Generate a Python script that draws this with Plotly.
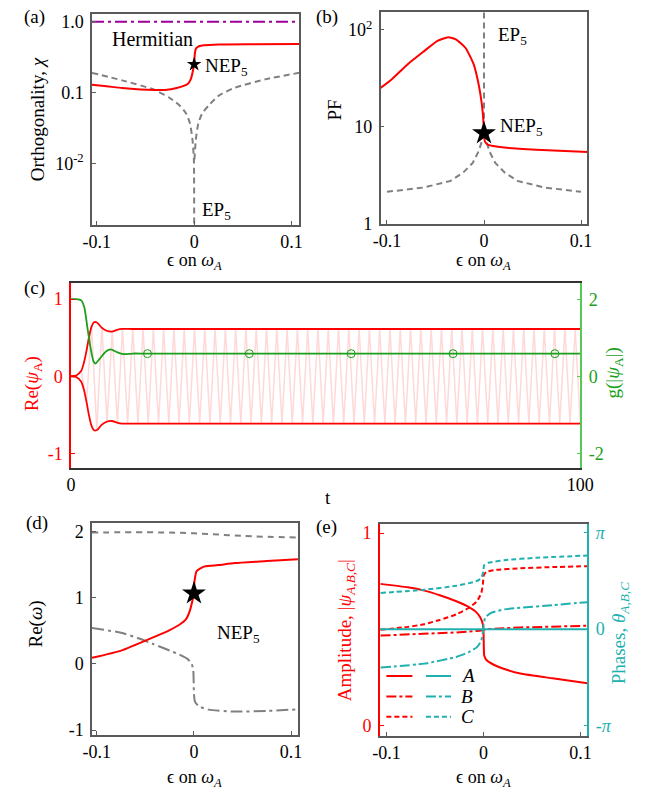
import plotly.graph_objects as go

W, H = 660, 797
FONT = "Liberation Serif, Times New Roman, serif"
RED = "#ff0000"
GRAY = "#808080"
PURPLE = "#9b009b"
GREEN = "#1aa01a"
CYAN = "#20b0b0"
PINK = "#ffd8d8"
BORDER = "#5a5a5a"

# ---------------- data: panel (a) ----------------
a_eps_red = [-0.105, -0.09, -0.074, -0.055, -0.041, -0.03, -0.018, -0.0067, -0.0034, -0.0017, 0.0,
             0.0005, 0.001, 0.002, 0.005, 0.01, 0.025, 0.06, 0.108]
a_chi_red = [0.129, 0.123, 0.116, 0.111, 0.109, 0.109, 0.116, 0.132, 0.155, 0.191, 0.25,
             0.33, 0.38, 0.42, 0.45, 0.465, 0.478, 0.482, 0.485]
a_eps_gray_l = [-0.105, -0.074, -0.041, -0.025, -0.015, -0.0083, -0.0043, -0.0017, -0.0003, 0.0]
a_chi_gray_l = [0.19, 0.149, 0.11, 0.084, 0.066, 0.051, 0.0367, 0.0215, 0.0114, 0.0012]
a_eps_gray_r = [0.0003, 0.0017, 0.0043, 0.0083, 0.015, 0.025, 0.041, 0.074, 0.108]
a_chi_gray_r = [0.0114, 0.0215, 0.037, 0.051, 0.066, 0.09, 0.116, 0.155, 0.19]
a_eps_herm = [-0.105, 0.108]
a_chi_herm = [1.0, 1.0]
a_star = (0.0, 0.25)

# ---------------- data: panel (b) ----------------
b_eps_red = [-0.107, -0.095, -0.078, -0.062, -0.048, -0.037, -0.029, -0.019, -0.0106, -0.0056,
             -0.0023, -0.0007, 0.0, 0.001, 0.0043, 0.021, 0.054, 0.107]
b_pf_red = [25, 31, 44.8, 60, 77, 84, 80, 65, 44, 27.6,
            17.3, 11.7, 8.57, 7.03, 6.5, 6.1, 5.8, 5.5]
b_eps_gray_l = [-0.1, -0.062, -0.0345, -0.0215, -0.0116, -0.0056, -0.0023, 0.0, 0.0]
b_pf_gray_l = [2.13, 2.36, 2.76, 3.36, 4.24, 5.56, 7.03, 8.57, 200]
b_eps_gray_r = [0.0, 0.0023, 0.0056, 0.0116, 0.0215, 0.0345, 0.062, 0.1]
b_pf_gray_r = [8.57, 7.03, 5.56, 4.24, 3.36, 2.76, 2.36, 2.13]
b_star = (0.0, 8.57)

# ---------------- data: panel (c) ----------------
c_t_env = [0, 1, 2, 2.5, 3, 3.5, 4, 4.5, 5, 5.5, 6, 7, 8, 9, 10, 12, 100]
c_env_up = [0, 0.01, 0.07, 0.17, 0.32, 0.5, 0.64, 0.7, 0.7, 0.67, 0.63, 0.59, 0.58, 0.6, 0.613, 0.613, 0.613]
c_env_low = [-v for v in c_env_up]
c_t_g = [0, 1, 2.0, 2.6, 3.2, 3.8, 4.4, 4.8, 5.6, 6.9, 7.8, 9.1, 10.3, 12.2, 15, 100]
c_g = [2.0, 2.0, 1.97, 1.79, 1.27, 0.76, 0.39, 0.33, 0.45, 0.65, 0.70, 0.62, 0.575, 0.59, 0.586, 0.586]
c_t_markers = [15, 35, 55, 75, 95]
c_g_markers = [0.586, 0.586, 0.586, 0.586, 0.586]
# oscillation of Re(psi_A): extreme values
c_osc_half_period = 1.01
c_osc_amp_early = [0.0, 0.01, 0.07, 0.33, 0.64, 0.70, 0.64, 0.59, 0.585, 0.60]
c_osc_amp_steady = 0.613

# ---------------- data: panel (d) ----------------
d_eps_red = [-0.105, -0.075, -0.042, -0.025, -0.015, -0.0083, -0.0043, -0.0017, 0.0, 0.0005,
             0.0028, 0.011, 0.025, 0.042, 0.075, 0.108]
d_re_red = [0.09, 0.2, 0.4, 0.51, 0.59, 0.67, 0.80, 0.945, 1.063, 1.24,
            1.40, 1.47, 1.49, 1.52, 1.55, 1.58]
d_eps_top = [-0.105, -0.05, 0.0, 0.05, 0.108]
d_re_top = [1.98, 1.985, 1.97, 1.93, 1.905]
d_eps_mid = [-0.105, -0.075, -0.058, -0.042, -0.025, -0.015, -0.0067, -0.0023, -0.0007, 0.0,
             0.001, 0.005, 0.015, 0.042, 0.075, 0.108]
d_re_mid = [0.54, 0.47, 0.39, 0.30, 0.2, 0.14, 0.075, 0.0, -0.1, -0.45,
            -0.57, -0.64, -0.69, -0.72, -0.71, -0.685]
d_star = (0.0, 1.063)

# ---------------- data: panel (e) ----------------
e_eps_ampA = [-0.106, -0.078, -0.061, -0.045, -0.028, -0.015, -0.008, -0.0033, -0.0007, 0.0,
              0.0003, 0.0007, 0.0033, 0.0116, 0.0248, 0.038, 0.071, 0.107]
e_ampA = [0.737, 0.719, 0.702, 0.678, 0.647, 0.617, 0.593, 0.562, 0.528, 0.485,
          0.417, 0.366, 0.341, 0.315, 0.290, 0.272, 0.247, 0.221]
e_eps_ampB = [-0.106, -0.061, -0.028, -0.004, 0.003, 0.038, 0.107]
e_ampB = [0.469, 0.477, 0.485, 0.494, 0.502, 0.511, 0.52]
e_eps_ampC = [-0.106, -0.078, -0.061, -0.045, -0.028, -0.015, -0.0067, -0.0023, -0.0007, 0.0003,
              0.0033, 0.0116, 0.038, 0.071, 0.107]
e_ampC = [0.499, 0.514, 0.528, 0.55, 0.579, 0.613, 0.647, 0.69, 0.732, 0.783,
          0.80, 0.809, 0.818, 0.824, 0.829]
e_eps_phA = [-0.107, 0.107]
e_phA = [0.0, 0.0]  # in units of pi
e_eps_phB = [-0.106, -0.061, -0.028, -0.015, -0.0067, -0.0023, -0.0007, 0.0003, 0.0017, 0.0083,
             0.0215, 0.038, 0.071, 0.107]
e_phB = [-0.399, -0.358, -0.289, -0.238, -0.187, -0.119, -0.034, 0.051, 0.12, 0.171,
         0.205, 0.222, 0.249, 0.28]
e_eps_phC = [-0.106, -0.061, -0.028, -0.008, -0.0023, -0.0003, 0.0007, 0.005, 0.0215, 0.054, 0.107]
e_phC = [0.375, 0.409, 0.45, 0.495, 0.529, 0.597, 0.665, 0.689, 0.716, 0.74, 0.764]

eps_ticks = [-0.1, 0, 0.1]
eps_ticktext = ["-0.1", "0", "0.1"]


def px(x):
    return x / W


def py(y):
    return 1 - y / H


fig = go.Figure()

# ---- (a)
fig.add_trace(go.Scatter(x=a_eps_herm, y=a_chi_herm, mode="lines", xaxis="x", yaxis="y",
                         line=dict(color=PURPLE, width=2, dash="12px,4px,3px,4px")))
fig.add_trace(go.Scatter(x=a_eps_gray_l, y=a_chi_gray_l, mode="lines", xaxis="x", yaxis="y",
                         line=dict(color=GRAY, width=2, dash="6px,4px", shape="spline", smoothing=0.6)))
fig.add_trace(go.Scatter(x=a_eps_gray_r, y=a_chi_gray_r, mode="lines", xaxis="x", yaxis="y",
                         line=dict(color=GRAY, width=2, dash="6px,4px", shape="spline", smoothing=0.6)))
fig.add_trace(go.Scatter(x=a_eps_red, y=a_chi_red, mode="lines", xaxis="x", yaxis="y",
                         line=dict(color=RED, width=2, shape="spline", smoothing=0.5)))
fig.add_trace(go.Scatter(x=[a_star[0]], y=[a_star[1]], mode="markers", xaxis="x", yaxis="y",
                         marker=dict(symbol="star", size=11, color="black")))

# ---- (b)
fig.add_trace(go.Scatter(x=b_eps_gray_l, y=b_pf_gray_l, mode="lines", xaxis="x2", yaxis="y2",
                         line=dict(color=GRAY, width=2, dash="6px,4px")))
fig.add_trace(go.Scatter(x=b_eps_gray_r, y=b_pf_gray_r, mode="lines", xaxis="x2", yaxis="y2",
                         line=dict(color=GRAY, width=2, dash="6px,4px")))
fig.add_trace(go.Scatter(x=b_eps_red, y=b_pf_red, mode="lines", xaxis="x2", yaxis="y2",
                         line=dict(color=RED, width=2, shape="spline", smoothing=0.5)))
fig.add_trace(go.Scatter(x=[b_star[0]], y=[b_star[1]], mode="markers", xaxis="x2", yaxis="y2",
                         marker=dict(symbol="star", size=18, color="black")))

# ---- (c)
n_ext = int(100 / c_osc_half_period) + 1
osc_t, osc_v = [], []
for k in range(n_ext):
    amp = c_osc_amp_early[k] if k < len(c_osc_amp_early) else c_osc_amp_steady
    osc_t.append(k * c_osc_half_period)
    osc_v.append(amp if k % 2 == 0 else -amp)
fig.add_trace(go.Scatter(x=osc_t, y=osc_v, mode="lines", xaxis="x3", yaxis="y3",
                         line=dict(color=PINK, width=1.5)))
fig.add_trace(go.Scatter(x=c_t_env, y=c_env_up, mode="lines", xaxis="x3", yaxis="y3",
                         line=dict(color=RED, width=1.8, shape="spline", smoothing=0.6)))
fig.add_trace(go.Scatter(x=c_t_env, y=c_env_low, mode="lines", xaxis="x3", yaxis="y3",
                         line=dict(color=RED, width=1.8, shape="spline", smoothing=0.6)))
fig.add_trace(go.Scatter(x=c_t_g, y=c_g, mode="lines", xaxis="x3", yaxis="y4",
                         line=dict(color=GREEN, width=1.8, shape="spline", smoothing=0.6)))
fig.add_trace(go.Scatter(x=c_t_markers, y=c_g_markers, mode="markers", xaxis="x3", yaxis="y4",
                         marker=dict(symbol="circle-open", size=8, color=GREEN, line=dict(width=1))))

# ---- (d)
fig.add_trace(go.Scatter(x=d_eps_top, y=d_re_top, mode="lines", xaxis="x4", yaxis="y5",
                         line=dict(color=GRAY, width=2, dash="6px,5px", shape="spline")))
fig.add_trace(go.Scatter(x=d_eps_mid, y=d_re_mid, mode="lines", xaxis="x4", yaxis="y5",
                         line=dict(color=GRAY, width=2, dash="12px,4px,3px,4px", shape="spline", smoothing=0.5)))
fig.add_trace(go.Scatter(x=d_eps_red, y=d_re_red, mode="lines", xaxis="x4", yaxis="y5",
                         line=dict(color=RED, width=2, shape="spline", smoothing=0.5)))
fig.add_trace(go.Scatter(x=[d_star[0]], y=[d_star[1]], mode="markers", xaxis="x4", yaxis="y5",
                         marker=dict(symbol="star", size=18, color="black")))

# ---- (e)
DD = "10px,3px,3px,3px"
DA = "5px,3px"
fig.add_trace(go.Scatter(x=e_eps_phA, y=e_phA, mode="lines", xaxis="x5", yaxis="y7",
                         line=dict(color=CYAN, width=2)))
fig.add_trace(go.Scatter(x=e_eps_phB, y=e_phB, mode="lines", xaxis="x5", yaxis="y7",
                         line=dict(color=CYAN, width=2, dash=DD, shape="spline", smoothing=0.5)))
fig.add_trace(go.Scatter(x=e_eps_phC, y=e_phC, mode="lines", xaxis="x5", yaxis="y7",
                         line=dict(color=CYAN, width=2, dash=DA, shape="spline", smoothing=0.5)))
fig.add_trace(go.Scatter(x=e_eps_ampA, y=e_ampA, mode="lines", xaxis="x5", yaxis="y6",
                         line=dict(color=RED, width=2, shape="spline", smoothing=0.5)))
fig.add_trace(go.Scatter(x=e_eps_ampB, y=e_ampB, mode="lines", xaxis="x5", yaxis="y6",
                         line=dict(color=RED, width=2, dash=DD)))
fig.add_trace(go.Scatter(x=e_eps_ampC, y=e_ampC, mode="lines", xaxis="x5", yaxis="y6",
                         line=dict(color=RED, width=2, dash=DA, shape="spline", smoothing=0.5)))

TICK_SIZE = 18
tickfont = dict(family=FONT, size=TICK_SIZE, color="black")


def xax(dom, rng, anchor, tickvals, ticktext, color=BORDER, mirror=True):
    return dict(domain=dom, range=rng, anchor=anchor, showline=True, linecolor=color, linewidth=1.5,
                mirror=mirror, ticks="inside", ticklen=4, tickcolor=color, showgrid=False,
                zeroline=False, tickvals=tickvals, ticktext=ticktext, tickfont=tickfont,
                ticklabelstandoff=0)


def yax(dom, rng, anchor, tickvals, ticktext, color=BORDER, mirror=True, typ="linear",
        side="left", overlaying=None, fcolor="black"):
    d = dict(domain=dom, range=rng, anchor=anchor, showline=True, linecolor=color, linewidth=1.5,
             mirror=mirror, ticks="inside", ticklen=4, tickcolor=color, showgrid=False,
             zeroline=False, tickvals=tickvals, ticktext=ticktext, type=typ, side=side,
             tickfont=dict(family=FONT, size=TICK_SIZE, color=fcolor), ticklabelstandoff=3)
    if overlaying:
        d["overlaying"] = overlaying
    return d


layout = dict(
    width=W, height=H, margin=dict(l=0, r=0, t=0, b=0),
    paper_bgcolor="white", plot_bgcolor="white", showlegend=False,
    font=dict(family=FONT, size=19, color="black"),
    xaxis=xax([px(86), px(300.7)], [-0.105, 0.108], "y", eps_ticks, eps_ticktext),
    yaxis=yax([py(226), py(11.7)], [-2.86, 0.115], "x", [0.01, 0.1, 1.0],
              ["10<sup>-2</sup>", "0.1", "1.0"], typ="log"),
    xaxis2=xax([px(385), px(599.3)], [-0.1066, 0.1066], "y2", eps_ticks, eps_ticktext),
    yaxis2=yax([py(225), py(10)], [0, 2.186], "x2", [1, 10, 100], ["1", "10", "10<sup>2</sup>"], typ="log"),
    xaxis3=xax([px(64.3), px(592)], [0, 100], "y3", [0, 100], ["0", "100"], color="#333333"),
    yaxis3=yax([py(472.7), py(285.7)], [-1.184, 1.204], "x3", [-1, 0, 1], ["-1", "0", "1"],
               color=RED, mirror=False, fcolor=RED),
    yaxis4=yax([py(472.7), py(285.7)], [-2.37, 2.41], "x3", [-2, 0, 2], ["-2", "0", "2"],
               color="#55c855", mirror=False, side="right", overlaying="y3", fcolor=GREEN),
    xaxis4=xax([px(86), px(299.3)], [-0.105, 0.107], "y5", eps_ticks, eps_ticktext),
    yaxis5=yax([py(744), py(529.3)], [-1.07, 2.12], "x4", [-1, 0, 1, 2], ["-1", "0", "1", "2"]),
    xaxis5=xax([px(384.3), px(599.3)], [-0.1067, 0.107], "y6", eps_ticks, eps_ticktext),
    yaxis6=yax([py(745), py(530)], [-0.051, 1.0475], "x5", [0, 1], ["0", "1"],
               color=RED, mirror=False, fcolor=RED),
    yaxis7=yax([py(745), py(530)], [-1.107, 1.091], "x5", [-1, 0, 1],
               ["-<i>π</i>", "0", "<i>π</i>"], color=CYAN, mirror=False, side="right",
               overlaying="y6", fcolor=CYAN),
)
fig.update_layout(**layout)

ann = []


def text(x, y, s, size=19, color="black", xanchor="center", angle=0):
    ann.append(dict(x=px(x), y=py(y), xref="paper", yref="paper", text=s, showarrow=False,
                    xanchor=xanchor, yanchor="middle", textangle=angle,
                    font=dict(family=FONT, size=size, color=color)))


XT = "ϵ on <i>ω</i><sub><i>A</i></sub>"
# panel labels
text(26, 15, "(a)")
text(329, 15, "(b)")
text(26, 290, "(c)")
text(29, 529, "(d)")
text(329, 533, "(e)")
# axis titles
text(29, 119, "Orthogonality, <i>χ</i>", angle=-90)
text(192, 263, XT, size=18)
text(337, 110, "PF", angle=-90)
text(492, 263, XT, size=18)
text(25, 388, "Re(<i>ψ</i><sub>A</sub>)", color=RED, angle=-90)
text(627, 377, "g(|<i>ψ</i><sub>A</sub>|)", color=GREEN, angle=-90)
text(330, 503, "t")
text(28, 632, "Re(<i>ω</i>)", angle=-90)
text(192, 788, XT, size=18)
text(350, 638, "Amplitude, |<i>ψ</i><sub><i>A,B,C</i></sub>|", color=RED, angle=-90)
text(633, 641, "Phases, <i>θ</i><sub><i>A,B,C</i></sub>", color=CYAN, angle=-90)
text(492, 788, XT, size=18)
# in-panel texts
text(149, 38, "Hermitian", size=20)
text(201, 66, "NEP<sub>5</sub>", xanchor="left")
text(198, 212, "EP<sub>5</sub>", xanchor="left")
text(505, 35, "EP<sub>5</sub>", xanchor="left")
text(507, 127, "NEP<sub>5</sub>", xanchor="left")
text(213, 642, "NEP<sub>5</sub>", xanchor="left")
# legend of (e)
for yy, lab in zip([684.3, 705, 725.7], ["A", "B", "C"]):
    text(466, yy, "<i>%s</i>" % lab, xanchor="left")
fig.update_layout(annotations=ann)

shapes = []
for yy, dash in zip([684.3, 705, 725.7], ["solid", DD, DA]):
    shapes.append(dict(type="line", xref="paper", yref="paper", x0=px(391), x1=px(418),
                       y0=py(yy), y1=py(yy), line=dict(color=RED, width=2, dash=dash)))
    shapes.append(dict(type="line", xref="paper", yref="paper", x0=px(432), x1=px(458),
                       y0=py(yy), y1=py(yy), line=dict(color=CYAN, width=2, dash=dash)))
fig.update_layout(shapes=shapes)

fig.write_html("out.html")
